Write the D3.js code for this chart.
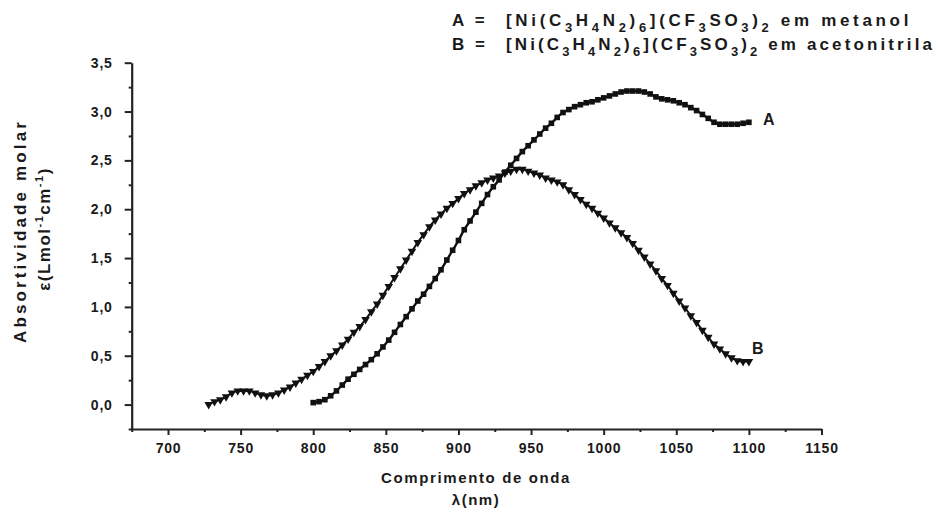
<!DOCTYPE html>
<html>
<head>
<meta charset="utf-8">
<script src="https://cdn.jsdelivr.net/npm/d3@7"></script>
<style>
body { margin: 0; background: #fff; }
text { font-family: "Liberation Sans", Arial, sans-serif; font-weight: bold; fill: #1a1a1a; }
</style>
</head>
<body>
<div class="chart"></div>
<script>
// curve A: [nm, epsilon] in metanol
const seriesA = [
  [800,0.02],[804,0.03],[808,0.05],[812,0.09],[816,0.14],[820,0.20],[824,0.26],[828,0.31],
  [832,0.36],[836,0.41],[840,0.46],[844,0.52],[848,0.59],[852,0.66],[856,0.74],[860,0.82],
  [864,0.90],[868,0.98],[872,1.06],[876,1.13],[880,1.21],[884,1.29],[888,1.38],[892,1.48],
  [896,1.58],[900,1.68],[904,1.79],[908,1.88],[912,1.97],[916,2.06],[920,2.15],[924,2.23],
  [928,2.30],[932,2.38],[936,2.45],[940,2.52],[944,2.59],[948,2.65],[952,2.71],[956,2.77],
  [960,2.83],[964,2.88],[968,2.94],[972,2.99],[976,3.02],[980,3.05],[984,3.07],[988,3.09],
  [992,3.10],[996,3.12],[1000,3.14],[1004,3.16],[1008,3.18],[1012,3.20],[1016,3.21],[1020,3.21],
  [1024,3.21],[1028,3.20],[1032,3.18],[1036,3.15],[1040,3.13],[1044,3.12],[1048,3.11],[1052,3.09],
  [1056,3.07],[1060,3.04],[1064,3.01],[1068,2.97],[1072,2.93],[1076,2.89],[1080,2.87],[1084,2.87],
  [1088,2.87],[1092,2.87],[1096,2.88],[1100,2.89]
];

// curve B: [nm, epsilon] in acetonitrila
const seriesB = [
  [728,0.00],[732,0.03],[736,0.05],[740,0.08],[744,0.12],[748,0.14],[752,0.14],[756,0.14],
  [760,0.12],[764,0.10],[768,0.09],[772,0.10],[776,0.12],[780,0.15],[784,0.18],[788,0.22],
  [792,0.26],[796,0.30],[800,0.34],[804,0.39],[808,0.44],[812,0.50],[816,0.55],[820,0.61],
  [824,0.67],[828,0.74],[832,0.80],[836,0.87],[840,0.95],[844,1.03],[848,1.12],[852,1.21],
  [856,1.30],[860,1.39],[864,1.48],[868,1.57],[872,1.66],[876,1.74],[880,1.82],[884,1.89],
  [888,1.95],[892,2.01],[896,2.06],[900,2.11],[904,2.16],[908,2.20],[912,2.24],[916,2.27],
  [920,2.30],[924,2.32],[928,2.34],[932,2.37],[936,2.39],[940,2.41],[944,2.41],[948,2.39],
  [952,2.37],[956,2.35],[960,2.32],[964,2.30],[968,2.28],[972,2.25],[976,2.20],[980,2.15],
  [984,2.10],[988,2.05],[992,2.01],[996,1.96],[1000,1.91],[1004,1.86],[1008,1.81],[1012,1.76],
  [1016,1.71],[1020,1.65],[1024,1.58],[1028,1.51],[1032,1.44],[1036,1.37],[1040,1.29],[1044,1.22],
  [1048,1.14],[1052,1.06],[1056,0.99],[1060,0.91],[1064,0.84],[1068,0.76],[1072,0.69],[1076,0.62],
  [1080,0.57],[1084,0.52],[1088,0.48],[1092,0.45],[1096,0.44],[1100,0.44]
];

const xTicks = [700, 750, 800, 850, 900, 950, 1000, 1050, 1100, 1150];
const xMinor = [675, 725, 775, 825, 875, 925, 975, 1025, 1075, 1125];
const yTicks = [0, 0.5, 1, 1.5, 2, 2.5, 3, 3.5];
const yMinor = [-0.25, 0.25, 0.75, 1.25, 1.75, 2.25, 2.75, 3.25];

const formula = [["[Ni(C"], ["3", 1], ["H"], ["4", 1], ["N"], ["2", 1], [")"], ["6", 1],
                 ["](CF"], ["3", 1], ["SO"], ["3", 1], [")"], ["2", 1]];
const legendRows = [
    {key: "A =", solvent: "em metanol"},
    {key: "B =", solvent: "em acetonitrila"}
];

const width = 940, height = 512;
const plot = {left: 131.7, right: 821.5, top: 62.7, bottom: 429};

const svg = d3.select(".chart").append("svg")
    .attr("width", width)
    .attr("height", height);

const x = d3.scaleLinear().domain([675, 1150]).range([plot.left, plot.right]);
const y = d3.scaleLinear().domain([-0.25, 3.5]).range([plot.bottom, plot.top]);

const fmt = d => d3.format(".1f")(d).replace(".", ",");

// stretch a text element to a given width with letter spacing
const fitWidth = (sel, target) => {
    const node = sel.node();
    const n = node.textContent.length;
    const w = node.getComputedTextLength();
    sel.style("letter-spacing", ((target - w) / n) + "px");
};

// axes
const xAxis = svg.append("g")
    .attr("transform", "translate(0," + plot.bottom + ")")
    .call(d3.axisBottom(x).tickValues(xTicks).tickFormat(d3.format("d"))
          .tickSize(6).tickSizeOuter(0).tickPadding(6));
svg.append("g")
    .attr("transform", "translate(0," + plot.bottom + ")")
    .call(d3.axisBottom(x).tickValues(xMinor).tickSize(3).tickFormat(""))
    .select(".domain").remove();

const yAxis = svg.append("g")
    .attr("transform", "translate(" + plot.left + ",0)")
    .call(d3.axisLeft(y).tickValues(yTicks).tickFormat(fmt)
          .tickSize(7).tickSizeOuter(0).tickPadding(12));
svg.append("g")
    .attr("transform", "translate(" + plot.left + ",0)")
    .call(d3.axisLeft(y).tickValues(yMinor).tickSize(3).tickFormat(""))
    .select(".domain").remove();

svg.selectAll(".domain").attr("stroke", "#222").attr("stroke-width", 2.2);
svg.selectAll(".tick line").attr("stroke", "#222").attr("stroke-width", 2);
svg.selectAll(".tick text")
    .style("font-size", "14px")
    .style("font-family", "'Liberation Sans', Arial, sans-serif")
    .style("font-weight", "bold")
    .style("letter-spacing", "0.8px")
    .attr("fill", "#1a1a1a");
xAxis.selectAll(".tick text").attr("dy", "0.85em");

// curves
const line = d3.line().x(d => x(d[0])).y(d => y(d[1])).curve(d3.curveMonotoneX);

svg.append("path").datum(seriesA).attr("d", line)
    .attr("fill", "none").attr("stroke", "#111").attr("stroke-width", 2.4);
svg.append("path").datum(seriesB).attr("d", line)
    .attr("fill", "none").attr("stroke", "#111").attr("stroke-width", 2);

svg.append("g").selectAll("rect")
    .data(seriesA)
    .enter().append("rect")
    .attr("x", d => x(d[0]) - 2.8)
    .attr("y", d => y(d[1]) - 2.8)
    .attr("width", 5.6)
    .attr("height", 5.6)
    .attr("fill", "#111");

const tri = d3.symbol().type(d3.symbolTriangle).size(32);
svg.append("g").selectAll("path")
    .data(seriesB)
    .enter().append("path")
    .attr("d", tri)
    .attr("transform", d => "translate(" + x(d[0]) + "," + y(d[1]) + ") rotate(180)")
    .attr("fill", "#111");

// curve labels
svg.append("text").attr("x", x(1100) + 14).attr("y", y(2.89) + 3)
    .style("font-size", "16px").text("A");
svg.append("text").attr("x", x(1100) + 3).attr("y", y(0.44) - 8)
    .style("font-size", "16px").text("B");

// axis titles
const yTitle = svg.append("text")
    .attr("transform", "translate(26,231) rotate(-90)")
    .attr("text-anchor", "middle")
    .style("font-size", "17px")
    .text("Absortividade molar");
fitWidth(yTitle, 224);

const eps = svg.append("text")
    .attr("transform", "translate(50,229) rotate(-90)")
    .attr("text-anchor", "middle")
    .style("font-size", "17px")
    .style("letter-spacing", "1.5px");
eps.append("tspan").text("ε(Lmol");
eps.append("tspan").attr("dy", -7).style("font-size", "11px").text("-1");
eps.append("tspan").attr("dy", 7).text("cm");
eps.append("tspan").attr("dy", -7).style("font-size", "11px").text("-1");
eps.append("tspan").attr("dy", 7).text(")");

const xTitle = svg.append("text")
    .attr("x", 476).attr("y", 483)
    .attr("text-anchor", "middle")
    .style("font-size", "15px")
    .text("Comprimento de onda");
fitWidth(xTitle, 190);
svg.append("text")
    .attr("x", 476).attr("y", 505)
    .attr("text-anchor", "middle")
    .style("font-size", "15px")
    .style("letter-spacing", "1.5px")
    .text("λ(nm)");

// legend
const legendRow = (row, i, target) => {
    const yPos = 26 + i * 24;
    const k = svg.append("text")
        .attr("x", 452).attr("y", yPos)
        .style("font-size", "17px")
        .text(row.key);
    fitWidth(k, 36);
    const t = svg.append("text")
        .attr("x", 506).attr("y", yPos)
        .style("font-size", "17px");
    let shifted = false;
    formula.forEach(p => {
        const span = t.append("tspan").text(p[0]);
        if (p[1]) {
            span.style("font-size", "13px");
            if (!shifted) { span.attr("dy", 6); shifted = true; }
        } else if (shifted) { span.attr("dy", -6); shifted = false; }
    });
    t.append("tspan").attr("dy", -6).text(" " + row.solvent);
    fitWidth(t, target);
};
legendRow(legendRows[0], 0, 406);
legendRow(legendRows[1], 1, 429);
</script>
</body>
</html>
